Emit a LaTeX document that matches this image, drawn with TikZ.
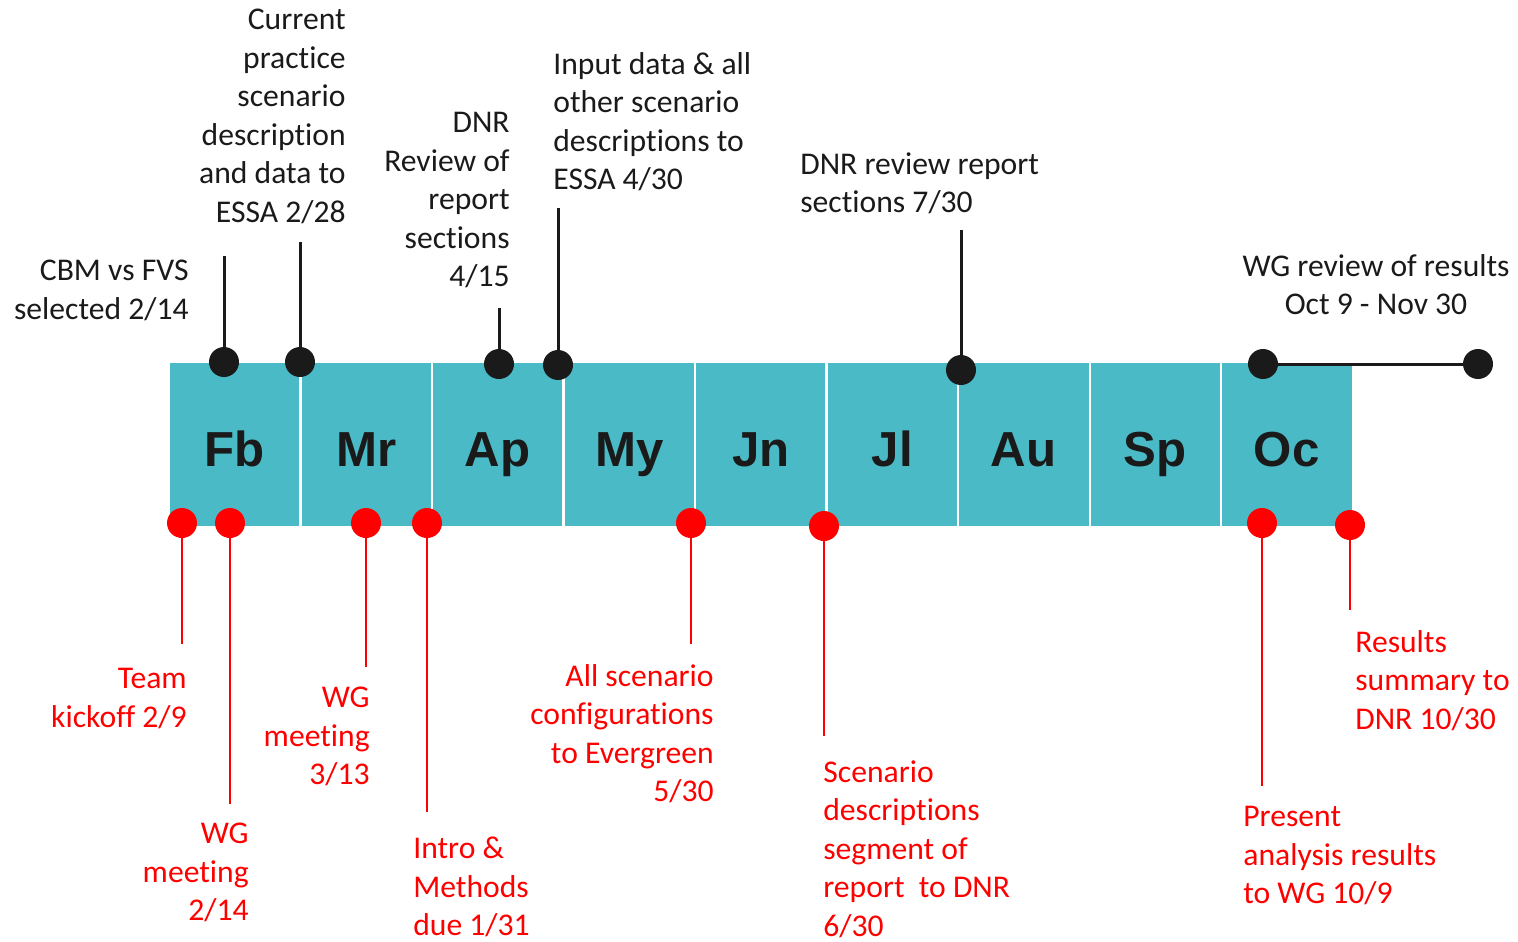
\documentclass[tikz,border=0pt]{standalone}
\usepackage{fontspec}
\setmainfont{Carlito}[Ligatures=CommonOff]
\newfontfamily\monthfont{Liberation Sans}
\definecolor{barteal}{RGB}{74,186,198}
\definecolor{ink}{RGB}{26,26,26}
\definecolor{due}{RGB}{255,0,0}
\tikzset{
  month/.style={fill=barteal, draw=white, line width=0.04cm, minimum width=2.63cm, minimum height=3.3cm,
    text height=1.0cm, text depth=0.14cm, inner sep=0pt,
    font=\monthfont\bfseries\fontsize{28}{30}\selectfont, text=ink},
  bdot/.style={circle, fill=ink, minimum size=0.6cm, inner sep=0pt},
  rdot/.style={circle, fill=due, minimum size=0.6cm, inner sep=0pt},
  bline/.style={draw=ink, line width=0.06cm},
  rline/.style={draw=due, line width=0.05cm},
  note/.style={font=\fontsize{18}{21.9}\selectfont, inner sep=0pt, text=ink},
  rnote/.style={note, text=due},
}
\begin{document}
\begin{tikzpicture}[x=0.02cm, y=-0.02cm]
    \useasboundingbox (0,0) rectangle (1518,941);
    % month bar
    \foreach \i/\m in {1/Fb, 2/Mr, 3/Ap, 4/My, 5/Jn, 6/Jl, 7/Au, 8/Sp, 9/Oc} {
      \node[month] (m\i) at ({169+131.5*(\i-0.5)},444.5) {\m};
    }
    % milestones above the bar
    \foreach \n/\x/\y/\e in {1/224/362/256, 2/300/362/242, 3/499/364/308, 4/558/365/208, 5/961/370/230} {
      \node[bdot] (b\n) at (\x,\y) {};
      \coordinate (be\n) at (\x,\e);
      \draw[bline] (b\n.center) -- (be\n);
    }
    \node[bdot] (wg1) at (1263,364) {};
    \node[bdot] (wg2) at (1478,364) {};
    \draw[bline] (wg1) -- (wg2);
    \node[note, align=right, anchor=north east] (t1) at (189,260) {CBM vs FVS\\selected 2/14};
    \node[note, align=right, anchor=north east] (t2) at (346,9) {Current\\practice\\scenario\\description\\and data to\\ESSA 2/28};
    \node[note, align=right, anchor=north east] (t3) at (510,112) {DNR\\Review of\\report\\sections\\4/15};
    \node[note, align=left, anchor=north west] (t4) at (553,52) {Input data \& all\\other scenario\\descriptions to\\ESSA 4/30};
    \node[note, align=left, anchor=north west] (t5) at (800,152) {DNR review report\\sections 7/30};
    \node[note, align=center, anchor=north] (t6) at (1376,254) {WG review of results\\Oct 9 - Nov 30};
    % deliverables below the bar
    \foreach \n/\x/\y/\e in {1/182/523/644, 2/230/523/804, 3/366/523/667, 4/427/523/812,
        5/691/523/644, 6/824/526/736, 7/1262/523/786, 8/1350/525/610} {
      \node[rdot] (r\n) at (\x,\y) {};
      \coordinate (re\n) at (\x,\e);
      \draw[rline] (r\n.center) -- (re\n);
    }
    \node[rnote, align=right, anchor=north east] (s1) at (187,668) {Team\\kickoff 2/9};
    \node[rnote, align=right, anchor=north east] (s2) at (249,823) {WG\\meeting\\2/14};
    \node[rnote, align=right, anchor=north east] (s3) at (370,687) {WG\\meeting\\3/13};
    \node[rnote, align=left, anchor=north west] (s4) at (413,837) {Intro \&\\Methods\\due 1/31};
    \node[rnote, align=right, anchor=north east] (s5) at (714,664) {All scenario\\configurations\\to Evergreen\\5/30};
    \node[rnote, align=left, anchor=north west] (s6) at (823,760) {Scenario\\descriptions\\segment of\\report\ \ to DNR\\6/30};
    \node[rnote, align=left, anchor=north west] (s7) at (1243,806) {Present\\analysis results\\to WG 10/9};
    \node[rnote, align=left, anchor=north west] (s8) at (1355,630) {Results\\summary to\\DNR 10/30};
  \end{tikzpicture}
\end{document}
